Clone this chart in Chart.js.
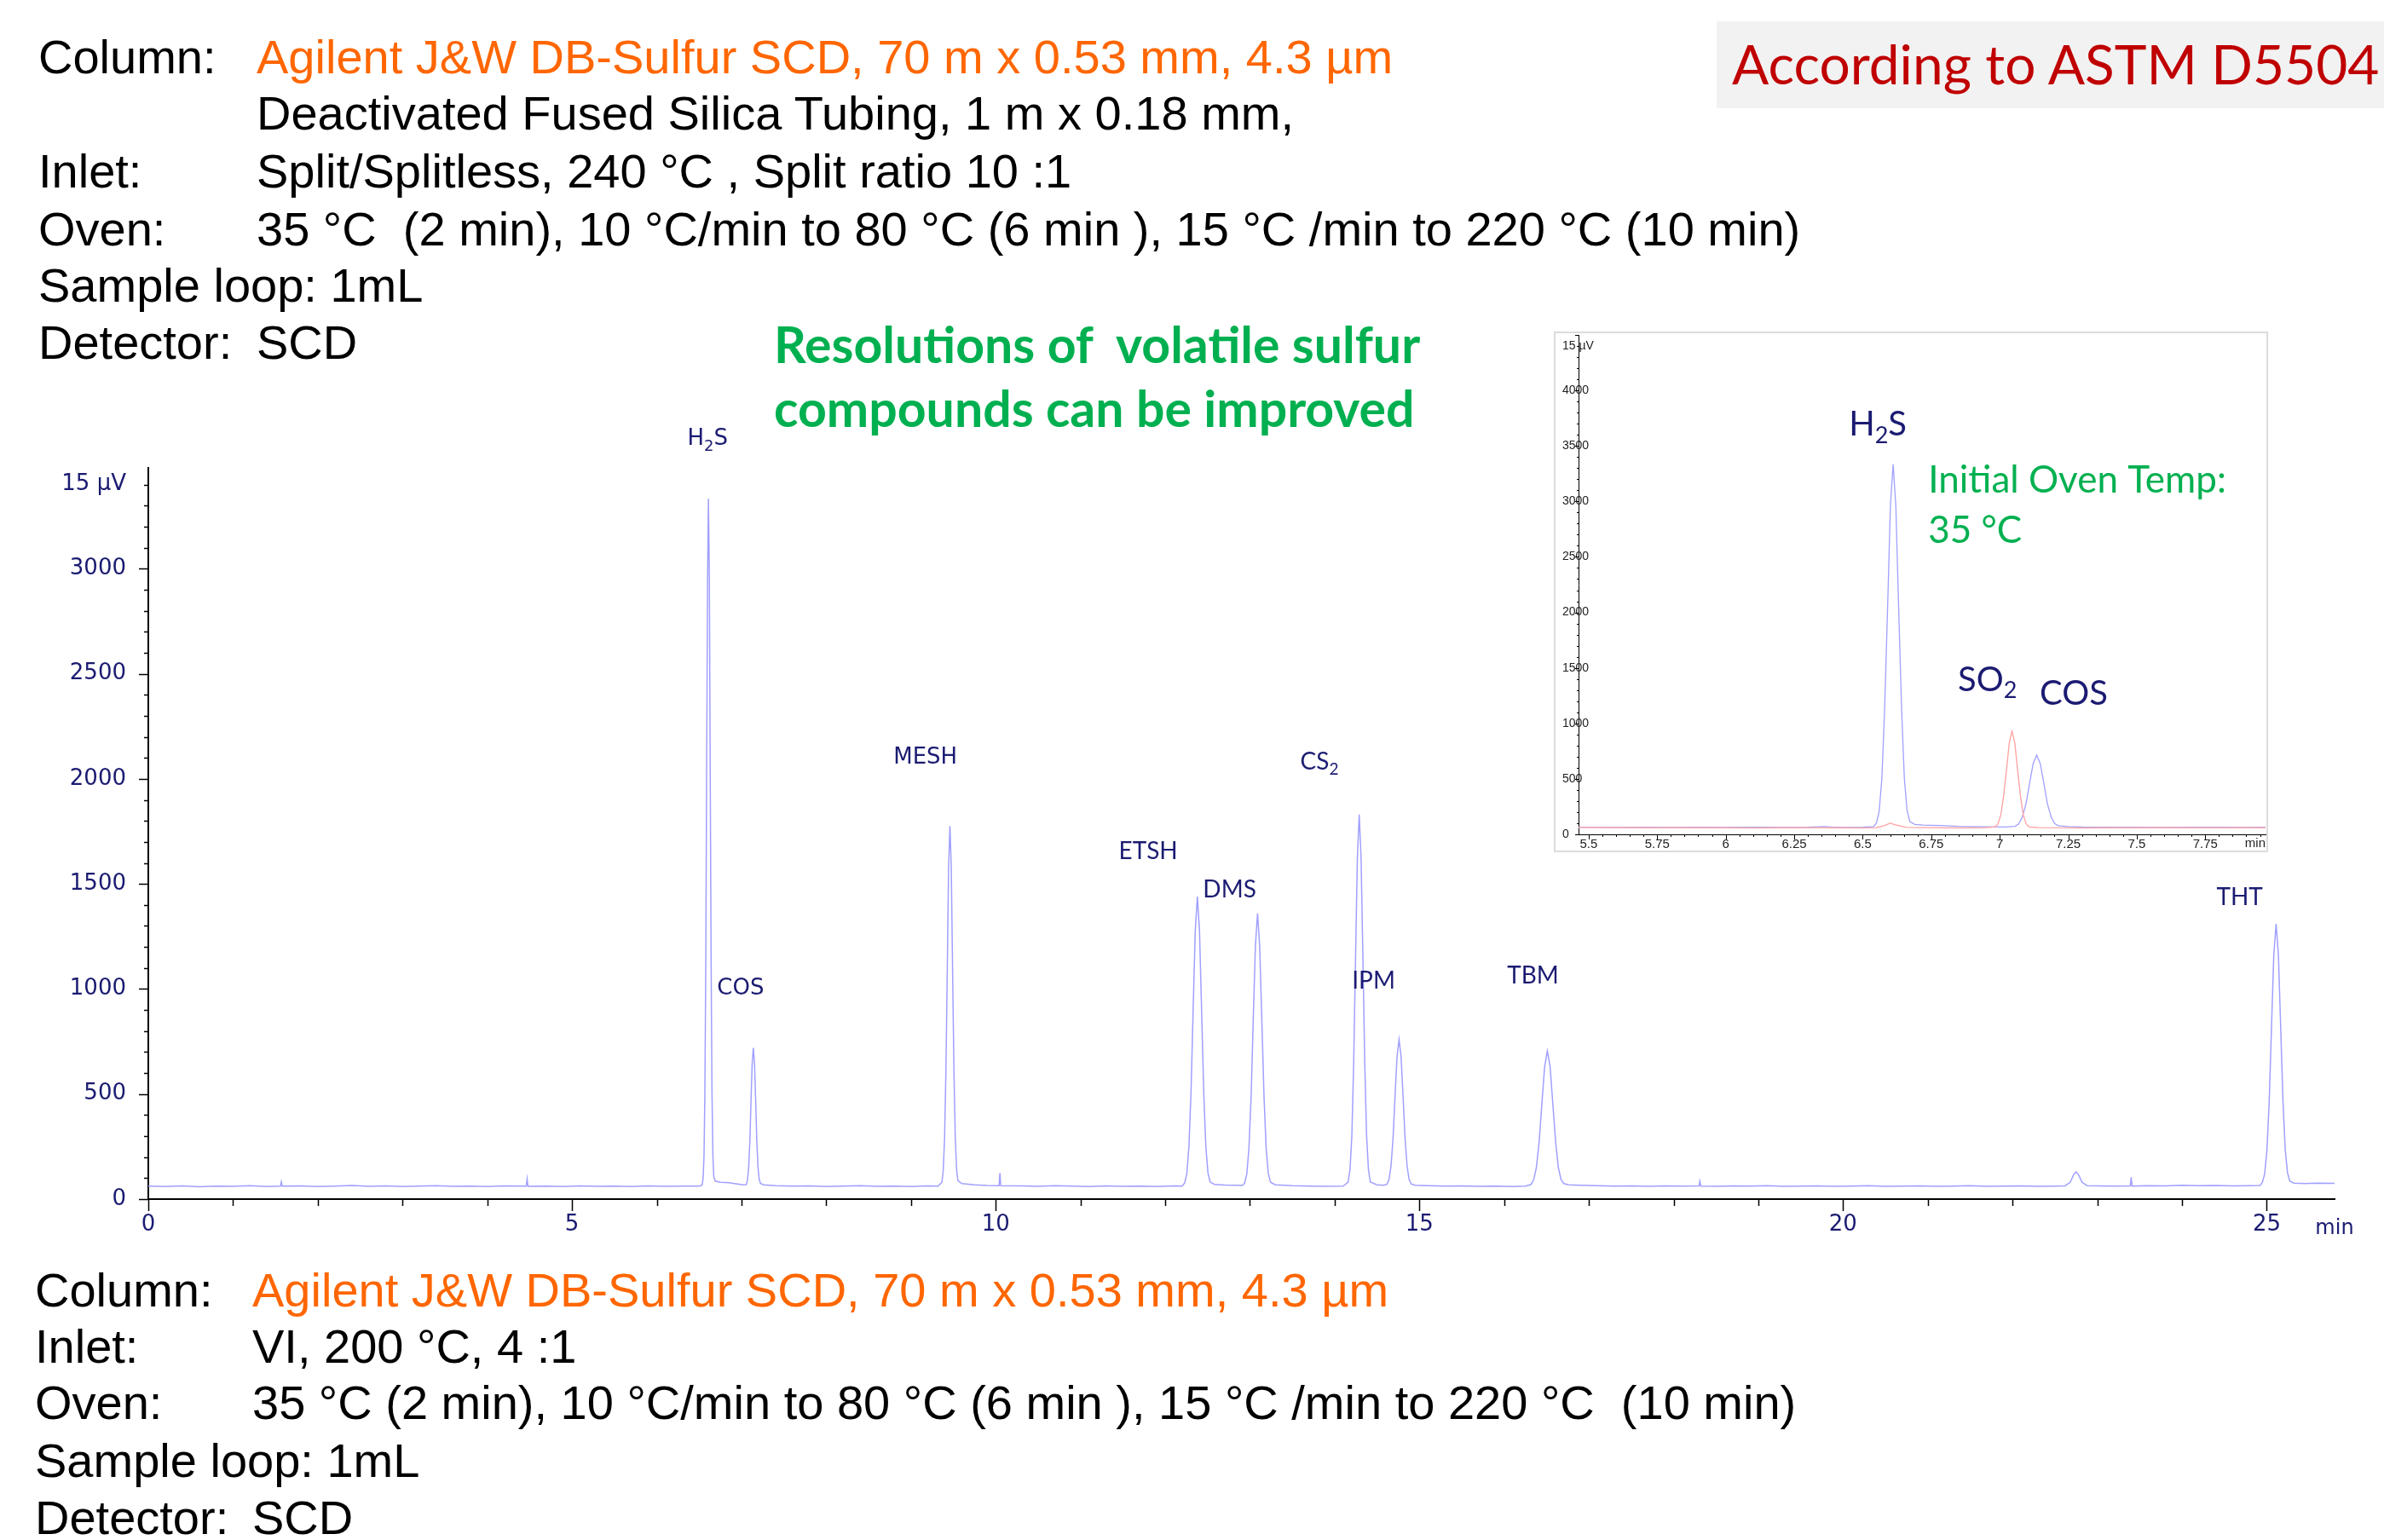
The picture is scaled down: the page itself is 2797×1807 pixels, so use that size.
<!DOCTYPE html>
<html>
<head>
<meta charset="utf-8">
<script src="https://cdn.jsdelivr.net/npm/chart.js@4.4.1/dist/chart.umd.min.js"></script>
<style>
  html, body { margin: 0; padding: 0; background: #fff; }
  #page { position: relative; width: 2797px; height: 1807px; overflow: hidden; }
  .t { position: absolute; white-space: pre; font-family: "Liberation Sans", Arial, sans-serif;
       font-size: 56px; line-height: 56px; color: #000; z-index: 3; }
  .o { color: #ff6600; }
  .green { font-family: Lato, sans-serif; font-weight: bold; color: #00b050; font-size: 59px; line-height: 59px; }
  #astm { position: absolute; left: 2014px; top: 25px; width: 783px; height: 102px; background: #f2f2f2; z-index: 3; }
  #astm span { position: absolute; left: 18px; top: 18px; font-family: Lato, sans-serif; font-size: 64px;
               line-height: 64px; color: #c00000; white-space: pre; }
  #mainBox { position: absolute; left: 0; top: 0; width: 2797px; height: 1807px; z-index: 1; }
  #insetBox { position: absolute; left: 1823px; top: 389px; width: 838px; height: 611px; box-sizing: border-box;
              border: 2px solid #dcdcdc; background: #fff; z-index: 2; }
</style>
</head>
<body>
<div id="page">
  <div class="t" style="left:45px;top:39px">Column:</div>
  <div class="t o" style="left:301px;top:39px">Agilent J&amp;W DB-Sulfur SCD, 70 m x 0.53 mm, 4.3 µm</div>
  <div class="t" style="left:301px;top:105px">Deactivated Fused Silica Tubing, 1 m x 0.18 mm,</div>
  <div class="t" style="left:45px;top:173px">Inlet:</div>
  <div class="t" style="left:301px;top:173px">Split/Splitless, 240 °C , Split ratio 10 :1</div>
  <div class="t" style="left:45px;top:241px">Oven:</div>
  <div class="t" style="left:301px;top:241px">35 °C  (2 min), 10 °C/min to 80 °C (6 min ), 15 °C /min to 220 °C (10 min)</div>
  <div class="t" style="left:45px;top:307px">Sample loop: 1mL</div>
  <div class="t" style="left:45px;top:374px">Detector:</div>
  <div class="t" style="left:301px;top:374px">SCD</div>

  <div class="t green" style="left:908px;top:374px">Resolutions of  volatile sulfur</div>
  <div class="t green" style="left:908px;top:449px">compounds can be improved</div>

  <div id="astm"><span>According to ASTM D5504</span></div>

  <div class="t" style="left:41px;top:1486px">Column:</div>
  <div class="t o" style="left:296px;top:1486px">Agilent J&amp;W DB-Sulfur SCD, 70 m x 0.53 mm, 4.3 µm</div>
  <div class="t" style="left:41px;top:1552px">Inlet:</div>
  <div class="t" style="left:296px;top:1552px">VI, 200 °C, 4 :1</div>
  <div class="t" style="left:41px;top:1618px">Oven:</div>
  <div class="t" style="left:296px;top:1618px">35 °C (2 min), 10 °C/min to 80 °C (6 min ), 15 °C /min to 220 °C  (10 min)</div>
  <div class="t" style="left:41px;top:1686px">Sample loop: 1mL</div>
  <div class="t" style="left:41px;top:1753px">Detector:</div>
  <div class="t" style="left:296px;top:1753px">SCD</div>

  <div id="mainBox"><canvas id="mainChart"></canvas></div>
  <div id="insetBox"><canvas id="insetChart"></canvas></div>
</div>

<script>
// main chromatogram (min, signal)
const mainTime = [
  0.0, 0.2, 0.4, 0.6, 0.8, 1.0, 1.2, 1.4, 1.56, 1.57, 1.58, 1.8, 2.0, 2.2, 2.4, 2.6, 2.8, 3.0, 3.2, 3.4,
  3.6, 3.8, 4.0, 4.2, 4.46, 4.47, 4.48, 4.7, 4.9, 5.1, 5.3, 5.5, 5.7, 5.9, 6.1, 6.3, 6.5,
  // H2S
  6.535, 6.547, 6.558, 6.568, 6.579, 6.589, 6.6, 6.61, 6.621, 6.631, 6.642, 6.652, 6.663, 6.673, 6.69, 6.75, 6.85, 6.95, 7.02,
  // COS
  7.057, 7.071, 7.085, 7.099, 7.112, 7.126, 7.14, 7.154, 7.168, 7.181, 7.195, 7.209, 7.223, 7.26,
  7.4, 7.6, 7.8, 8.0, 8.2, 8.4, 8.6, 8.8, 9.0, 9.2, 9.32,
  // MESH
  9.366, 9.381, 9.397, 9.413, 9.429, 9.444, 9.46, 9.476, 9.491, 9.507, 9.523, 9.539, 9.554, 9.6, 9.75, 9.9,
  10.04, 10.05, 10.06, 10.3, 10.5, 10.7, 10.9, 11.1, 11.3, 11.5, 11.7, 11.9, 12.1, 12.2,
  // ETSH
  12.231, 12.256, 12.28, 12.305, 12.33, 12.355, 12.38, 12.405, 12.43, 12.455, 12.48, 12.505, 12.53, 12.58, 12.7, 12.85, 12.91,
  // DMS
  12.937, 12.963, 12.988, 13.014, 13.039, 13.065, 13.09, 13.115, 13.141, 13.167, 13.192, 13.217, 13.243, 13.3, 13.5, 13.7, 13.9, 14.1,
  // CS2
  14.159, 14.181, 14.203, 14.224, 14.246, 14.268, 14.29, 14.312, 14.334, 14.356, 14.377, 14.399, 14.421, 14.5, 14.58,
  // IPM
  14.617, 14.641, 14.665, 14.689, 14.712, 14.736, 14.76, 14.784, 14.808, 14.831, 14.855, 14.879, 14.903, 14.95,
  15.1, 15.3, 15.5, 15.7, 15.9, 16.1, 16.25,
  // TBM
  16.315, 16.348, 16.38, 16.413, 16.445, 16.478, 16.51, 16.543, 16.575, 16.608, 16.64, 16.673, 16.705, 16.76,
  16.9, 17.1, 17.3, 17.5, 17.7, 17.9, 18.1, 18.3, 18.31, 18.32, 18.5, 18.7, 18.9, 19.1, 19.3, 19.5, 19.7, 19.9,
  20.1, 20.3, 20.5, 20.7, 20.9, 21.1, 21.3, 21.5, 21.7, 21.9, 22.1, 22.3, 22.5, 22.62,
  22.68, 22.72, 22.75, 22.78, 22.82, 22.88, 23.0, 23.2, 23.39, 23.4, 23.41, 23.6, 23.8, 24.0, 24.2, 24.4, 24.6, 24.8, 24.92,
  // THT
  24.948, 24.975, 25.002, 25.029, 25.056, 25.083, 25.11, 25.137, 25.164, 25.191, 25.218, 25.245, 25.272, 25.32, 25.45, 25.6, 25.8
];
const mainSignal = [
  62, 60, 63, 59, 62, 61, 64, 60, 62, 82, 62, 63, 60, 62, 65, 61, 63, 60, 62, 64,
  61, 62, 60, 63, 62, 97, 61, 62, 60, 63, 61, 62, 60, 63, 61, 62, 62,
  66, 98, 206, 505, 1124, 2046, 2949, 3333, 2949, 2046, 1124, 505, 206, 110, 86, 80, 78, 72, 68,
  69, 91, 151, 276, 461, 643, 720, 643, 461, 276, 151, 95, 75, 68,
  64, 62, 63, 60, 62, 64, 61, 62, 60, 63, 62,
  81, 137, 294, 618, 1101, 1574, 1775, 1574, 1101, 618, 294, 140, 88, 74, 68, 65,
  64, 125, 64, 63, 61, 64, 62, 60, 63, 61, 62, 60, 63, 62,
  77, 122, 248, 509, 898, 1278, 1440, 1278, 898, 509, 248, 125, 82, 70, 67, 66, 65,
  76, 119, 238, 483, 849, 1207, 1360, 1207, 849, 483, 238, 122, 80, 68, 64, 62, 61, 62,
  81, 140, 301, 636, 1134, 1622, 1830, 1622, 1134, 636, 301, 140, 81, 68, 66,
  70, 93, 156, 289, 485, 678, 760, 678, 485, 289, 156, 93, 72, 66,
  64, 62, 63, 61, 62, 60, 62,
  69, 90, 149, 271, 452, 629, 705, 629, 452, 271, 149, 92, 74, 68,
  66, 64, 62, 63, 61, 63, 62, 63, 85, 62, 61, 63, 62, 64, 61, 62, 63, 61,
  62, 64, 61, 62, 63, 61, 62, 64, 61, 62, 63, 61, 62, 63,
  80, 115, 130, 115, 80, 64, 63, 62, 63, 104, 62, 64, 63, 66, 64, 65, 63, 64, 65,
  79, 120, 233, 469, 820, 1164, 1310, 1164, 820, 469, 233, 125, 85, 76, 74, 76, 75
];
const mainXTicks = [0, 5, 10, 15, 20, 25];
const mainYTicks = [0, 500, 1000, 1500, 2000, 2500, 3000];
const mainPeakNames = ['H2S', 'COS', 'MESH', 'ETSH', 'DMS', 'CS2', 'IPM', 'TBM', 'THT'];

// inset: 5.5 - 8 min, two overlaid runs
const insetBlueTime = [
  5.46, 5.5, 5.6, 5.7, 5.8, 5.9, 6.0, 6.1, 6.2, 6.3, 6.36, 6.4, 6.5,
  6.54, 6.55, 6.56, 6.57, 6.58, 6.591, 6.601, 6.611, 6.621, 6.631, 6.642, 6.652, 6.662, 6.672, 6.69, 6.72, 6.78, 6.85, 6.95, 7.02,
  7.056, 7.069, 7.082, 7.096, 7.109, 7.122, 7.135, 7.148, 7.161, 7.174, 7.188, 7.201, 7.214, 7.25,
  7.3, 7.4, 7.5, 7.6, 7.7, 7.8, 7.9, 8.0
];
const insetBlueSignal = [
  64, 64, 63, 65, 63, 64, 62, 64, 63, 65, 70, 63, 64,
  70, 100, 207, 504, 1125, 2055, 2955, 3335, 2955, 2055, 1125, 504, 215, 115, 90, 84, 80, 72, 68, 67,
  72, 93, 153, 276, 459, 638, 715, 638, 459, 276, 153, 96, 78, 70,
  66, 64, 65, 63, 64, 65, 63, 64
];
const insetRedTime = [
  5.46, 5.5, 5.7, 5.9, 6.1, 6.3, 6.5, 6.55, 6.58, 6.6, 6.62, 6.66, 6.8, 6.9, 6.95,
  6.984, 6.994, 7.004, 7.014, 7.025, 7.035, 7.045, 7.055, 7.065, 7.076, 7.086, 7.096, 7.106, 7.14,
  7.3, 7.5, 7.7, 8.0
];
const insetRedSignal = [
  62, 62, 60, 61, 59, 60, 59, 60, 80, 100, 85, 62, 58, 58, 60,
  68, 96, 176, 341, 586, 827, 929, 827, 586, 341, 176, 96, 68, 60,
  59, 61, 60, 61
];
const insetYTicks = [0, 500, 1000, 1500, 2000, 2500, 3000, 3500, 4000];
const insetPeakNames = ['H2S', 'SO2', 'COS'];

const navy = '#1b1b72';
const axisFont = '"DejaVu Sans"';
const toPoints = (xs, ys) => xs.map((x, i) => ({ x: x, y: ys[i] }));
const near = (v, step) => Math.abs(v / step - Math.round(v / step)) < 1e-6;

// chemical names: digits drawn as subscripts (unless plain)
function drawFormula(ctx, it, x, y) {
  const runs = it.plain ? [it.text] : it.text.match(/[0-9]+|[^0-9]+/g);
  const isSub = r => !it.plain && /[0-9]/.test(r);
  const subSize = Math.round(it.size * 0.68);
  let width = 0;
  runs.forEach(r => {
    ctx.font = (isSub(r) ? subSize : it.size) + 'px ' + it.font;
    width += ctx.measureText(r).width;
  });
  let cx = it.align === 'left' ? x : x - width / 2;
  runs.forEach(r => {
    ctx.font = (isSub(r) ? subSize : it.size) + 'px ' + it.font;
    ctx.fillText(r, cx, isSub(r) ? y + it.size * 0.32 : y);
    cx += ctx.measureText(r).width;
  });
}

const textPlugin = {
  id: 'peakText',
  afterDatasetsDraw(chart, args, opts) {
    const { ctx } = chart;
    const xs = chart.scales.x, ys = chart.scales.y;
    ctx.save();
    ctx.textBaseline = 'middle';
    ctx.textAlign = 'left';
    opts.items.forEach(it => {
      ctx.fillStyle = it.color;
      drawFormula(ctx, it, xs.getPixelForValue(it.x), ys.getPixelForValue(it.y));
    });
    ctx.restore();
  }
};

const tickPlugin = {
  id: 'tickMarks',
  afterDraw(chart, args, o) {
    const { ctx } = chart;
    const xs = chart.scales.x, ys = chart.scales.y;
    ctx.save();
    ctx.strokeStyle = o.color;
    ctx.lineWidth = o.width;
    ctx.beginPath();
    xs.ticks.forEach(t => {
      if (!near(t.value, o.xMinor)) return;
      const len = near(t.value, o.xMajor) ? o.xMajorLen : o.xMinorLen;
      const px = Math.round(xs.getPixelForValue(t.value)) + 0.5;
      ctx.moveTo(px, xs.top);
      ctx.lineTo(px, xs.top + len);
    });
    ys.ticks.forEach(t => {
      if (!near(t.value, o.yMinor)) return;
      const len = near(t.value, o.yMajor) ? o.yMajorLen : o.yMinorLen;
      const py = Math.round(ys.getPixelForValue(t.value)) + 0.5;
      ctx.moveTo(ys.right, py);
      ctx.lineTo(ys.right - len, py);
    });
    ctx.stroke();
    if (o.endLabel) {
      ctx.fillStyle = o.endColor;
      ctx.font = o.endFont;
      ctx.textAlign = o.endAlign || 'center';
      ctx.textBaseline = 'middle';
      ctx.fillText(o.endLabel, xs.right, xs.top + o.endOffset);
    }
    ctx.restore();
  }
};

const mainLabelAt = [
  [6.60, 3615], [6.99, 1000], [9.17, 2100], [11.80, 1653], [12.76, 1474],
  [13.82, 2080], [14.46, 1040], [16.34, 1064], [24.68, 1434]
];

new Chart(document.getElementById('mainChart'), {
  type: 'line',
  data: {
    datasets: [{
      data: toPoints(mainTime, mainSignal),
      borderColor: '#a0a0ff',
      borderWidth: 1.5,
      pointRadius: 0,
      tension: 0
    }]
  },
  options: {
    animation: false,
    responsive: true,
    maintainAspectRatio: false,
    layout: { padding: { left: 0, top: 549, right: 58, bottom: 340 } },
    plugins: {
      legend: { display: false },
      tooltip: { enabled: false },
      tickMarks: { color: '#000', width: 1.5, xMinor: 1, xMajor: 5, xMinorLen: 8, xMajorLen: 14,
                   yMinor: 100, yMajor: 500, yMinorLen: 5, yMajorLen: 11,
                   endLabel: 'min', endColor: navy, endFont: '24px "DejaVu Sans"', endOffset: 35 },
      peakText: {
        items: mainPeakNames.map((n, i) => ({
          text: n, x: mainLabelAt[i][0], y: mainLabelAt[i][1], color: navy,
          font: i < 3 ? '"DejaVu Sans"' : 'Lato', size: i < 3 ? 26 : 28
        }))
      }
    },
    scales: {
      x: {
        type: 'linear', min: 0, max: 25.8,
        afterFit: s => { s.height = 60; },
        grid: { display: false, drawTicks: false },
        border: { color: '#000', width: 2 },
        ticks: {
          stepSize: 1, includeBounds: false, autoSkip: false, maxRotation: 0, padding: 15,
          color: navy, font: { family: axisFont, size: 26 },
          callback: v => mainXTicks.includes(v) ? String(v) : ''
        }
      },
      y: {
        type: 'linear', min: 0, max: 3480,
        afterFit: s => { s.width = 174; },
        grid: { display: false, drawTicks: false },
        border: { color: '#000', width: 2 },
        ticks: {
          stepSize: 100, includeBounds: false, autoSkip: false, padding: 26,
          color: navy, font: { family: axisFont, size: 26 },
          callback: v => mainYTicks.includes(v) ? String(v) : (v === 3400 ? '15 µV' : '')
        }
      }
    }
  },
  plugins: [tickPlugin, textPlugin]
});

const insetLabelAt = [[6.555, 3690], [6.955, 1390], [7.27, 1268]];

new Chart(document.getElementById('insetChart'), {
  type: 'line',
  data: {
    datasets: [
      { data: toPoints(insetRedTime, insetRedSignal), borderColor: '#ffa0a0', borderWidth: 1.3, pointRadius: 0, tension: 0 },
      { data: toPoints(insetBlueTime, insetBlueSignal), borderColor: '#a0a0ff', borderWidth: 1.3, pointRadius: 0, tension: 0 }
    ]
  },
  options: {
    animation: false,
    responsive: true,
    maintainAspectRatio: false,
    layout: { padding: { left: 0, top: 2, right: 1, bottom: 0 } },
    plugins: {
      legend: { display: false },
      tooltip: { enabled: false },
      tickMarks: { color: '#000', width: 1, xMinor: 0.05, xMajor: 0.25, xMinorLen: 3, xMajorLen: 6,
                   yMinor: 100, yMajor: 500, yMinorLen: 2, yMajorLen: 4,
                   endLabel: 'min', endColor: '#222', endFont: '15px "Liberation Sans"', endOffset: 11, endAlign: 'right' },
      peakText: {
        items: insetPeakNames.map((n, i) => ({
          text: n, x: insetLabelAt[i][0], y: insetLabelAt[i][1], color: navy, font: 'Lato', size: 40
        })).concat([
          { text: 'Initial Oven Temp:', x: 6.739, y: 3186, color: '#00b050', font: 'Lato', size: 44, align: 'left', plain: true },
          { text: '35 °C', x: 6.739, y: 2735, color: '#00b050', font: 'Lato', size: 44, align: 'left', plain: true }
        ])
      }
    },
    scales: {
      x: {
        type: 'linear', min: 5.463, max: 7.97,
        afterFit: s => { s.height = 19; },
        grid: { display: false, drawTicks: false },
        border: { color: '#000', width: 1 },
        ticks: {
          stepSize: 0.05, includeBounds: false, autoSkip: false, maxRotation: 0, padding: 3,
          color: '#222', font: { family: '"Liberation Sans"', size: 15 },
          callback: v => near(v, 0.25) ? String(v) : ''
        }
      },
      y: {
        type: 'linear', min: 0, max: 4500,
        afterFit: s => { s.width = 27; },
        grid: { display: false, drawTicks: false },
        border: { color: '#000', width: 1 },
        ticks: {
          stepSize: 100, includeBounds: false, autoSkip: false, mirror: true, padding: -19,
          color: '#222', font: { family: '"Liberation Sans"', size: 14 },
          callback: v => insetYTicks.includes(v) ? String(v) : (v === 4400 ? '15 µV' : '')
        }
      }
    }
  },
  plugins: [tickPlugin, textPlugin]
});
</script>
</body>
</html>
